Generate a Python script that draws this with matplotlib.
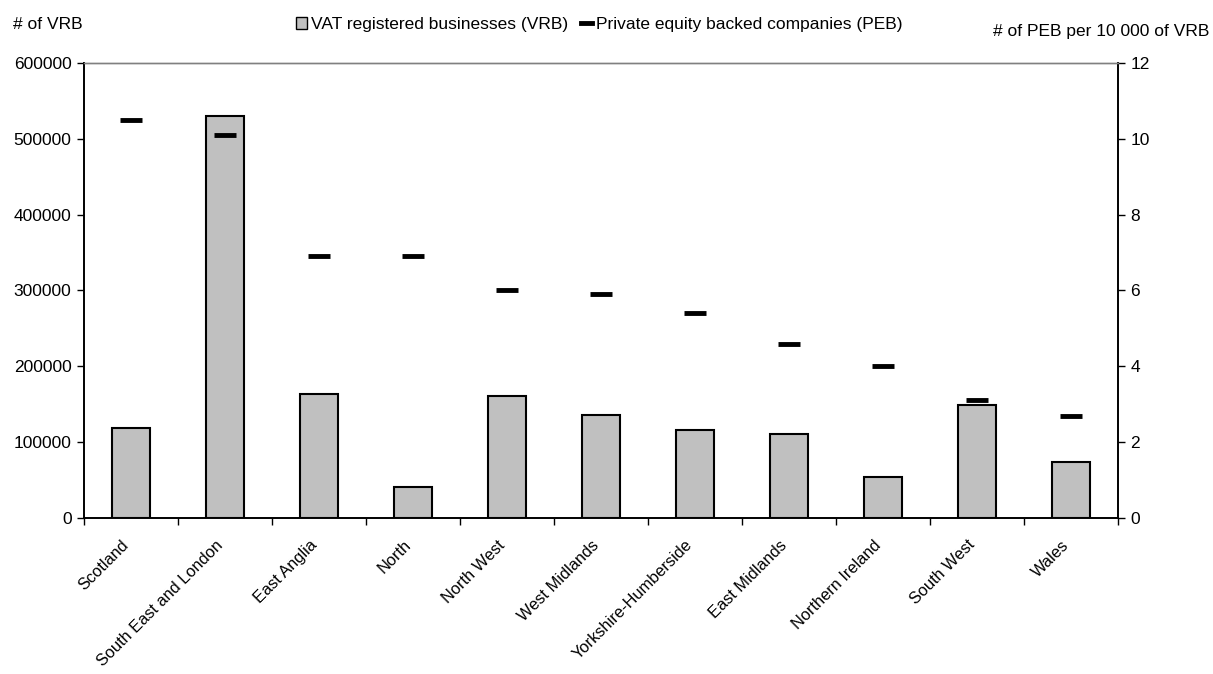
import numpy as np
import matplotlib.pyplot as plt
import matplotlib.transforms as mtransforms
from matplotlib.lines import Line2D
from matplotlib.patches import Patch

plt.rcParams["font.family"] = ["Liberation Sans", "DejaVu Sans"]
plt.rcParams["font.size"] = 12.5

regions = [
    "Scotland", "South East and London", "East Anglia", "North", "North West",
    "West Midlands", "Yorkshire-Humberside", "East Midlands", "Northern Ireland",
    "South West", "Wales",
]
vrb = [118000, 530000, 164000, 41000, 161000, 136000, 116000, 111000, 54000, 149000, 74000]
peb_per_10k = [10.5, 10.1, 6.9, 6.9, 6.0, 5.9, 5.4, 4.6, 4.0, 3.1, 2.7]

x = np.arange(len(regions))

fig = plt.figure(figsize=(12.13, 6.74), dpi=100)
ax = fig.add_axes([0.0693, 0.2315, 0.8524, 0.675])
ax2 = ax.twinx()

ax.bar(x, vrb, width=0.4, color="#C0C0C0", edgecolor="black", linewidth=1.5, zorder=2)
ax2.plot(x, peb_per_10k, linestyle="none", marker="_", markersize=16,
         markeredgewidth=3.5, color="black", zorder=3)

ax.set_xlim(-0.5, len(regions) - 0.5)
ax.set_ylim(0, 600000)
ax2.set_ylim(0, 12)
ax.set_yticks(np.arange(0, 600001, 100000))
ax2.set_yticks(np.arange(0, 13, 2))

# category labels in the middle, tick marks on the boundaries
ax.set_xticks(x)
ax.set_xticklabels(regions, rotation=45, ha="right", rotation_mode="anchor", fontsize=11.8)
ax.tick_params(axis="x", which="major", length=0, pad=14)
ax.set_xticks(np.arange(-0.5, len(regions), 1.0), minor=True)
ax.tick_params(axis="x", which="minor", length=5, width=1, direction="out")
ax.tick_params(axis="y", length=5, width=1, direction="out", pad=4)
ax2.tick_params(axis="y", length=5, width=1, direction="out", pad=4)

# nudge the rotated labels a little to the left, as in the original
shift = mtransforms.ScaledTranslation(-0.1, 0, fig.dpi_scale_trans)
for lbl in ax.get_xticklabels():
    lbl.set_transform(lbl.get_transform() + shift)

for a in (ax, ax2):
    a.spines["top"].set_color("#808080")
    a.spines["top"].set_linewidth(1)
    a.spines["left"].set_linewidth(1.2)
    a.spines["right"].set_linewidth(1.2)
    a.spines["bottom"].set_linewidth(1.2)

fig.text(0.011, 0.964, "# of VRB", ha="left", va="center")
fig.text(0.997, 0.953, "# of PEB per 10 000 of VRB", ha="right", va="center")

handles = [
    Patch(facecolor="#C0C0C0", edgecolor="black", linewidth=1),
    Line2D([], [], color="black", linewidth=3.5),
]
fig.legend(handles, ["VAT registered businesses (VRB)", "Private equity backed companies (PEB)"],
           loc="center", bbox_to_anchor=(0.494, 0.964), ncol=2, frameon=False,
           handlelength=0.65, handleheight=0.7, handletextpad=0.25, columnspacing=0.7)

fig.savefig("out.png", dpi=100)
